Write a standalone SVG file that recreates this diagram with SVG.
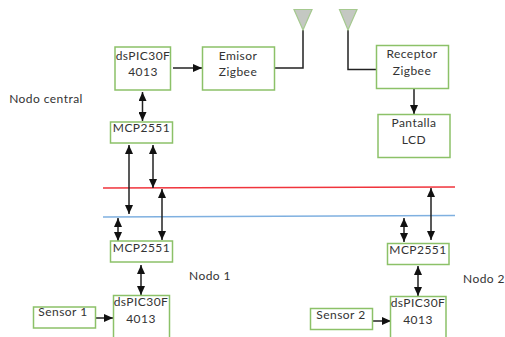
<svg xmlns="http://www.w3.org/2000/svg" width="505" height="337" viewBox="0 0 505 337">
<style>
.b{fill:#fff;stroke:#8cc168;stroke-width:1.5}
.a{fill:#c4c8c2;stroke:#a5c98f;stroke-width:1.2}
text{font-family:Lato,"Liberation Sans",sans-serif;font-size:12px;letter-spacing:.45px;fill:#333;text-anchor:middle}
.c{fill:none;stroke:#222;stroke-width:1.5}
.k{marker-end:url(#h)}
.d{marker-start:url(#hs);marker-end:url(#h)}
</style>
<defs>
<marker id="h" markerUnits="userSpaceOnUse" markerWidth="10" markerHeight="8" refX="9" refY="4" orient="auto"><path d="M0 0L9 4L0 8Z" fill="#111"/></marker>
<marker id="hs" markerUnits="userSpaceOnUse" markerWidth="10" markerHeight="8" refX="0" refY="4" orient="auto"><path d="M9 0L0 4L9 8Z" fill="#111"/></marker>
</defs>
<g id="bus-can-h"><path d="M103 188L455 187" stroke="#f0343c" stroke-width="1.5" fill="none"/></g>
<g id="bus-can-l"><path d="M103 217L455 215.500" stroke="#7fb0e0" stroke-width="1.5" fill="none"/></g>
<g id="connectors">
<path class="c k" d="M173 68H202"/>
<path class="c d" d="M142.500 92V121"/>
<path class="c" d="M274 68H303V30"/>
<path class="c" d="M348 30V69.500H376"/>
<path class="c k" d="M414 87V114"/>
<path class="c d" d="M129 145V214"/>
<path class="c d" d="M153 145V188"/>
<path class="c d" d="M162 189V240"/>
<path class="c d" d="M118 218V241"/>
<path class="c d" d="M141 265V295"/>
<path class="c k" d="M96 318H113"/>
<path class="c d" d="M404 218V242"/>
<path class="c d" d="M431 188V240"/>
<path class="c d" d="M418 266V296"/>
<path class="c k" d="M373 321H391"/>
</g>
<g id="antenna-tx"><path class="a" d="M294 9.500H312L303 30Z"/></g>
<g id="antenna-rx"><path class="a" d="M339.500 9.500H357L348 30Z"/></g>
<g id="dspic-central"><rect class="b" x="115" y="47" width="55.500" height="43"/><text x="143" y="60">dsPIC30F</text><text x="143" y="76">4013</text></g>
<g id="emisor"><rect class="b" x="202.500" y="47" width="72" height="43"/><text x="238" y="60">Emisor</text><text x="238" y="76">Zigbee</text></g>
<g id="receptor"><rect class="b" x="376.500" y="45.500" width="72" height="43"/><text x="412" y="58">Receptor</text><text x="412" y="75">Zigbee</text></g>
<g id="pantalla"><rect class="b" x="378" y="114.500" width="72" height="43"/><text x="414" y="127">Pantalla</text><text x="414" y="144">LCD</text></g>
<g id="mcp-central"><rect class="b" x="110.500" y="122" width="62" height="21"/><text x="141.500" y="132">MCP2551</text></g>
<g id="mcp-1"><rect class="b" x="110.500" y="241" width="62" height="21"/><text x="141.500" y="252">MCP2551</text></g>
<g id="mcp-2"><rect class="b" x="387.500" y="243.500" width="61.500" height="21"/><text x="418" y="254">MCP2551</text></g>
<g id="dspic-1"><path class="b" d="M113.500 337V295.500H169.500V337"/><text x="141" y="306">dsPIC30F</text><text x="141" y="323">4013</text></g>
<g id="dspic-2"><path class="b" d="M390.500 337V296.500H446V337"/><text x="418" y="307">dsPIC30F</text><text x="418" y="324">4013</text></g>
<g id="sensor-1"><rect class="b" x="33.500" y="307" width="62" height="21"/><text x="63" y="316">Sensor 1</text></g>
<g id="sensor-2"><rect class="b" x="310.500" y="308.500" width="62" height="21"/><text x="341" y="319">Sensor 2</text></g>
<g id="label-central"><text x="46" y="103">Nodo central</text></g>
<g id="label-1"><text x="210" y="280">Nodo 1</text></g>
<g id="label-2"><text x="484" y="283">Nodo 2</text></g>
</svg>
